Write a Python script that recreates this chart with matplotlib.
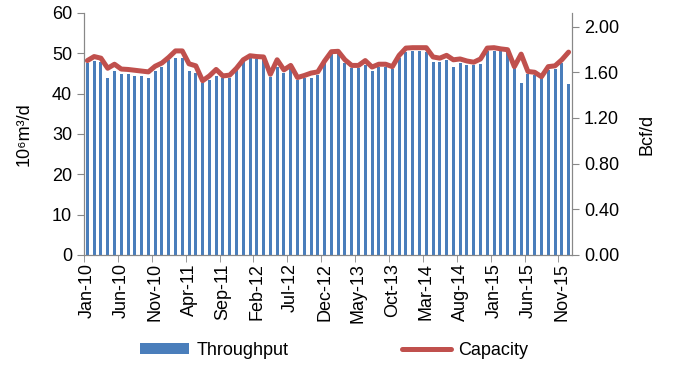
import matplotlib.pyplot as plt
import numpy as np
import pandas as pd

plt.rcParams['font.family'] = ['Liberation Sans', 'DejaVu Sans']

months = pd.date_range('2010-01-01', periods=72, freq='MS').strftime('%b-%y').tolist()

throughput = [47.5, 48.1, 47.9, 44.0, 45.7, 44.8, 44.8, 44.5, 44.3, 44.0, 45.5, 46.6,
              48.3, 48.8, 48.8, 45.5, 45.1, 42.6, 43.5, 44.5, 43.8, 44.0, 46.0, 48.0,
              48.8, 48.6, 48.4, 44.2, 46.7, 45.1, 46.3, 43.4, 43.8, 44.0, 44.7, 48.0,
              50.0, 50.0, 47.5, 46.3, 46.3, 47.0, 45.7, 46.6, 46.5, 46.1, 48.8, 50.4,
              50.6, 50.6, 50.4, 47.8, 47.8, 48.4, 46.7, 47.6, 47.0, 47.0, 47.4, 50.7,
              50.7, 50.7, 50.3, 46.3, 42.6, 44.8, 44.6, 43.8, 45.9, 46.2, 47.6, 42.5]

capacity = [48.2, 49.2, 48.8, 46.3, 47.3, 46.1, 46.0, 45.8, 45.6, 45.4, 46.8, 47.6,
            49.0, 50.6, 50.6, 47.4, 46.9, 43.2, 44.4, 46.0, 44.4, 44.6, 46.3, 48.4,
            49.4, 49.2, 49.1, 44.8, 48.4, 45.9, 47.0, 44.0, 44.5, 45.1, 45.4, 48.1,
            50.4, 50.5, 48.4, 47.0, 47.0, 48.2, 46.6, 47.3, 47.3, 46.7, 49.5, 51.3,
            51.4, 51.4, 51.4, 49.1, 48.8, 49.5, 48.4, 48.6, 48.1, 47.8, 48.6, 51.3,
            51.4, 51.1, 50.9, 46.7, 49.8, 45.5, 45.3, 44.2, 46.7, 46.9, 48.4, 50.3]

x = np.arange(len(months))

fig = plt.figure(figsize=(6.85, 3.65), dpi=100)
ax = fig.add_axes([0.1226, 0.3014, 0.7124, 0.663])

bars = ax.bar(x, throughput, width=0.45, color='#4A7EBB', zorder=2)
line, = ax.plot(x, capacity, color='#C0504D', lw=3.6, solid_joinstyle='round',
                solid_capstyle='round', zorder=3)

ax.set_xlim(-0.5, len(months) - 0.5)
ax.set_ylim(0, 60)
ax.set_yticks(range(0, 61, 10))
ax.set_ylabel('10⁶m³/d', fontsize=13, labelpad=14)

# labels centred under months, tick marks on month boundaries
ax.set_xticks(x[::5])
ax.set_xticklabels(months[::5], rotation=90, fontsize=13)
ax.tick_params(axis='x', length=0, pad=6)
ax.set_xticks(x[::5] - 0.5, minor=True)
ax.tick_params(axis='x', which='minor', length=5, color='#888888')
ax.tick_params(axis='y', labelsize=13, length=5, color='#888888')

ax2 = ax.twinx()
ax2.set_ylim(0, 60 * 35.3147 / 1000)
ax2.set_yticks(np.arange(0, 2.01, 0.4))
ax2.set_yticklabels(['%.2f' % v for v in np.arange(0, 2.01, 0.4)])
ax2.tick_params(axis='y', labelsize=13, length=5, color='#888888')
ax2.set_ylabel('Bcf/d', fontsize=13, labelpad=14)

for a in (ax, ax2):
    a.spines['top'].set_visible(False)
    for s in ('left', 'right', 'bottom'):
        a.spines[s].set_color('#888888')

fig.legend([bars, line], ['Throughput', 'Capacity'], loc='center',
           bbox_to_anchor=(0.488, 0.04), ncol=2, frameon=False, fontsize=13,
           handlelength=2.7, handleheight=0.55, handletextpad=0.4,
           columnspacing=6.3)

fig.savefig('out.png', dpi=100)
